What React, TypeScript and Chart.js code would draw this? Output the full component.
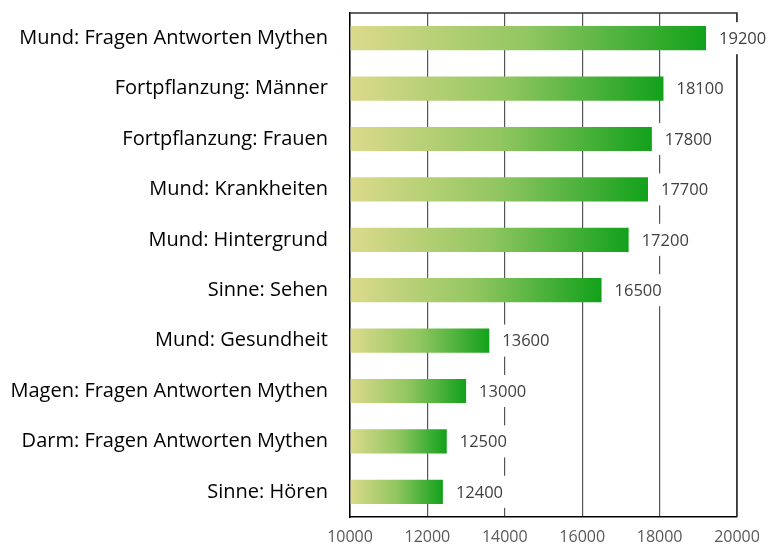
import React, { useEffect, useRef } from "react";
import { Chart, registerables } from "chart.js";

Chart.register(...registerables);

const categories = [
  "Mund: Fragen Antworten Mythen",
  "Fortpflanzung: Männer",
  "Fortpflanzung: Frauen",
  "Mund: Krankheiten",
  "Mund: Hintergrund",
  "Sinne: Sehen",
  "Mund: Gesundheit",
  "Magen: Fragen Antworten Mythen",
  "Darm: Fragen Antworten Mythen",
  "Sinne: Hören",
];
const values = [19200, 18100, 17800, 17700, 17200, 16500, 13600, 13000, 12500, 12400];
const axisMin = 10000;
const axisMax = 20000;
const axisStep = 2000;

const FONT = "'Open Sans', 'Noto Sans', sans-serif";

const boxPlugin = {
  id: "boxBorder",
  beforeDatasetsDraw(chart: any) {
    const { ctx, chartArea } = chart;
    ctx.save();
    ctx.strokeStyle = "#303030";
    ctx.lineWidth = 1.5;
    ctx.beginPath();
    const t = Math.round(chartArea.top);
    const r = Math.round(chartArea.right);
    ctx.moveTo(chartArea.left, t);
    ctx.lineTo(r, t);
    ctx.lineTo(r, chartArea.bottom);
    ctx.stroke();
    ctx.restore();
  },
};

const labelPlugin = {
  id: "valueLabels",
  afterDatasetsDraw(chart: any) {
    const { ctx } = chart;
    const meta = chart.getDatasetMeta(0);
    ctx.save();
    ctx.font = `16.5px ${FONT}`;
    ctx.textBaseline = "middle";
    ctx.textAlign = "left";
    meta.data.forEach((el: any, i: number) => {
      const txt = String(values[i]);
      const x = el.x + 13;
      const w = ctx.measureText(txt).width;
      ctx.fillStyle = "#ffffff";
      ctx.fillRect(x - 7, el.y - 16, w + 14, 32);
      ctx.fillStyle = "#404040";
      ctx.fillText(txt, x, el.y + 1);
    });
    ctx.restore();
  },
};

export default function App() {
  const ref = useRef<HTMLCanvasElement | null>(null);
  useEffect(() => {
    document.body.style.margin = "0";
    const canvas = ref.current!;
    const chart = new Chart(canvas, {
      type: "bar",
      data: {
        labels: categories,
        datasets: [
          {
            data: values,
            base: axisMin,
            barPercentage: 0.8,
            categoryPercentage: 0.6,
            backgroundColor: (c: any) => {
              const ch = c.chart;
              const xs = ch.scales && ch.scales.x;
              if (!xs || c.raw === undefined) return "#12a11b";
              const x0 = xs.getPixelForValue(axisMin);
              const x1 = xs.getPixelForValue(c.raw);
              if (!isFinite(x0) || !isFinite(x1) || x1 <= x0) return "#12a11b";
              const g = ch.ctx.createLinearGradient(x0, 0, x1, 0);
              g.addColorStop(0, "#dcda8c");
              g.addColorStop(0.5, "#91c660");
              g.addColorStop(1, "#12a11b");
              return g;
            },
            borderWidth: 0,
          } as any,
        ],
      },
      options: {
        indexAxis: "y",
        animation: false,
        responsive: true,
        maintainAspectRatio: false,
        layout: { padding: { left: 0, right: 42, top: 13, bottom: 0 } },
        plugins: { legend: { display: false }, tooltip: { enabled: false } },
        scales: {
          x: {
            min: axisMin,
            max: axisMax,
            ticks: {
              stepSize: axisStep,
              color: "#595959",
              font: { family: FONT, size: 16 },
              padding: 11,
              maxRotation: 0,
              callback: (v: any) => String(v),
            },
            grid: { color: "#555555", lineWidth: 1.2, drawTicks: false },
            border: { color: "#000000", width: 1.5 },
            afterFit: (s: any) => {
              s.height = 30;
              s.paddingLeft = 0;
              s.paddingRight = 0;
            },
          },
          y: {
            ticks: {
              color: "#000000",
              font: { family: FONT, size: 20 },
              padding: 22,
            },
            grid: { display: false, drawTicks: false },
            border: { color: "#000000", width: 1.5 },
            afterFit: (s: any) => {
              s.width = 350;
              s.paddingTop = 0;
              s.paddingBottom = 0;
            },
          },
        },
      },
      plugins: [boxPlugin, labelPlugin],
    });
    return () => chart.destroy();
  }, []);
  return (
    <div style={{ width: 779, height: 547, position: "relative" }}>
      <canvas ref={ref} />
    </div>
  );
}
